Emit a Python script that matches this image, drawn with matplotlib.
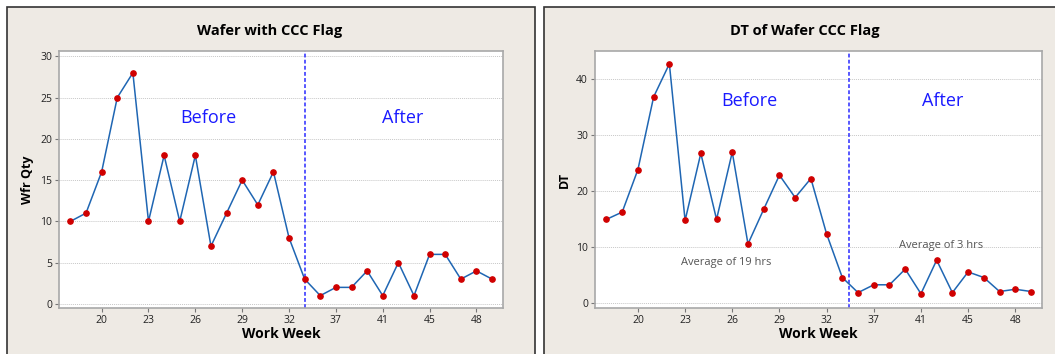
import matplotlib
matplotlib.use("Agg")
import matplotlib.pyplot as plt
from matplotlib.patches import Rectangle

plt.rcParams['font.family'] = ['Open Sans', 'DejaVu Sans']

# data
weeks = [18, 19, 20, 21, 22, 23, 24, 25, 26, 27, 28, 29, 30, 31, 32,
         35, 36, 37, 38, 40, 41, 43, 44, 45, 46, 47, 48, 49]
wfr_qty = [10, 11, 16, 25, 28, 10, 18, 10, 18, 7, 11, 15, 12, 16, 8,
           3, 1, 2, 2, 4, 1, 5, 1, 6, 6, 3, 4, 3]
dt_hrs = [14.9, 16.2, 23.8, 36.8, 42.7, 14.7, 26.7, 14.9, 26.9, 10.5, 16.7, 22.8, 18.8, 22.2, 12.3,
          4.5, 1.8, 3.2, 3.2, 6.0, 1.6, 7.6, 1.8, 5.5, 4.5, 2.0, 2.4, 2.0]
left_yticks = [0, 5, 10, 15, 20, 25, 30]
right_yticks = [0, 10, 20, 30, 40]

LINE = '#1f66b3'
DOT = '#d00000'
PANEL = '#eeeae4'

fig = plt.figure(figsize=(10.55, 3.54), dpi=100)
fig.patch.set_facecolor('white')

# panel backgrounds with dark frame (kept behind the axes)
for x0, x1 in [(7, 535), (544, 1070)]:
    fig.patches.append(Rectangle((x0 / 1055, -0.05), (x1 - x0) / 1055, 1.05 - 7 / 354,
                                 transform=fig.transFigure, facecolor=PANEL,
                                 edgecolor='#333333', linewidth=1.2, zorder=-10))


def draw_panel(ax, vals, yticks, ylim, ylabel, split_x, title, title_x):
    idx = list(range(len(weeks)))
    ax.plot(idx, vals, color=LINE, linewidth=1.1, zorder=3)
    ax.plot(idx, vals, 'o', color=DOT, markersize=3.8, zorder=4)
    ax.axvline(split_x, color='#2a2aff', linestyle=(0, (2.5, 1.5)), linewidth=1.1, zorder=2)
    ax.set_xlim(-0.73, 27.7)
    ax.set_ylim(*ylim)
    ax.set_xticks(idx[2::3])
    ax.set_xticklabels([str(w) for w in weeks[2::3]], fontsize=7.5, color='#222222')
    ax.set_yticks(yticks)
    ax.set_yticklabels([str(v) for v in yticks], fontsize=7.5, color='#222222')
    ax.tick_params(direction='out', length=3, width=0.8, color='#777777', pad=2)
    ax.grid(axis='y', linestyle=(0, (1, 1)), color='#c8c8c8', linewidth=0.7)
    ax.set_axisbelow(True)
    for s in ax.spines.values():
        s.set_color('#a8a8a8')
        s.set_linewidth(1.2)
    ax.set_xlabel('Work Week', fontsize=10, fontweight='bold', labelpad=1)
    ax.set_ylabel(ylabel, fontsize=9, fontweight='bold', labelpad=4)
    fig.text(title_x / 1055, 1 - 31 / 354, title, fontsize=10.5, fontweight='bold',
             ha='center', va='center')


ax1 = fig.add_axes([59 / 1055, 1 - 308 / 354, 444 / 1055, 257 / 354])
draw_panel(ax1, wfr_qty, left_yticks, (-0.5, 30.65), 'Wfr Qty', 15.05,
           'Wafer with CCC Flag', 270)
ax1.text(8.85, 22.5, 'Before', color='#1a1aff', fontsize=13, ha='center', va='center')
ax1.text(21.3, 22.5, 'After', color='#1a1aff', fontsize=13, ha='center', va='center')

ax2 = fig.add_axes([595 / 1055, 1 - 308 / 354, 447 / 1055, 257 / 354])
draw_panel(ax2, dt_hrs, right_yticks, (-0.95, 45.0), 'DT', 15.44,
           'DT of Wafer CCC Flag', 805)
ax2.text(9.07, 36.0, 'Before', color='#1a1aff', fontsize=13, ha='center', va='center')
ax2.text(21.4, 36.0, 'After', color='#1a1aff', fontsize=13, ha='center', va='center')
ax2.text(7.6, 7.1, 'Average of 19 hrs', color='#555555', fontsize=8, ha='center', va='center')
ax2.text(21.25, 10.2, 'Average of 3 hrs', color='#555555', fontsize=8, ha='center', va='center')

fig.savefig('out.png', dpi=100, facecolor=fig.get_facecolor())
